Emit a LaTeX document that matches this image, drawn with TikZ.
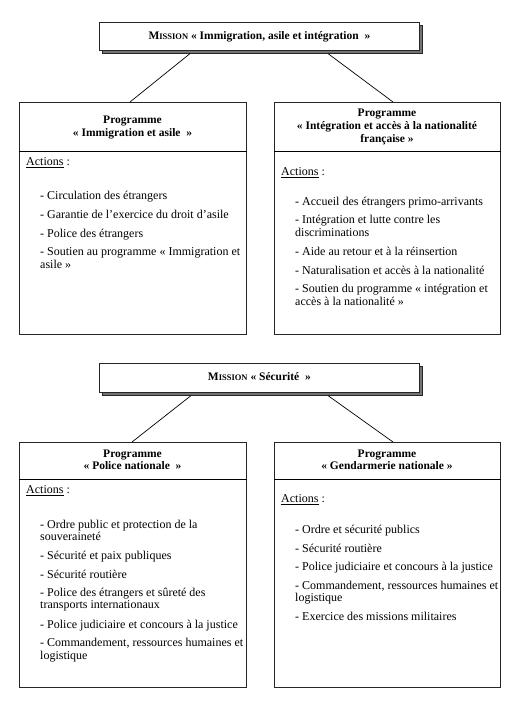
\documentclass[tikz,border=0pt]{standalone}
\usepackage{fontspec}
\setmainfont{Liberation Serif}
\newcommand\missionword{{\fontsize{11.5}{13}\selectfont M}{\fontsize{8.5}{13}\selectfont ISSION}}
\begin{document}
\begin{tikzpicture}[x=1pt,y=-1pt,
  frame/.style={draw=black!85, line width=0.8pt, fill=white, inner sep=0pt, anchor=north west},
  shadowbox/.style={draw=black!85, line width=0.6pt, fill=black!55, inner sep=0pt, anchor=north west},
  conn/.style={draw=black, line width=0.7pt},
  sepline/.style={draw=black, line width=1pt},
  txt/.style={anchor=west, inner sep=0pt, text height=8pt, text depth=2.5pt, font=\fontsize{12}{13}\selectfont},
  hd/.style={inner sep=0pt, text height=8pt, text depth=2.5pt, font=\bfseries\fontsize{11.5}{13}\selectfont},
]
\useasboundingbox (0,0) rectangle (519,703);
\fill[white] (0,0) rectangle (519,703);

% ---------- Mission 1 ----------
\node[shadowbox, minimum width=320pt, minimum height=28pt] (m1s) at (102,25) {};
\node[frame, minimum width=320pt, minimum height=28pt] (m1) at (99,22) {};
\node[hd] (m1t) at (m1.center) {\missionword{} « Immigration, asile et intégration~ »};

\node[frame, minimum width=227pt, minimum height=232pt] (p1) at (19,102) {};
\node[frame, minimum width=226pt, minimum height=232pt] (p2) at (274,102) {};
\draw[sepline] ([yshift=-50pt]p1.north west) -- ([yshift=-50pt]p1.north east);
\draw[sepline] ([yshift=-50pt]p2.north west) -- ([yshift=-50pt]p2.north east);
\draw[conn] ([xshift=88pt]m1s.south west) -- ([xshift=111pt]p1.north west);
\draw[conn] ([xshift=226pt]m1s.south west) -- ([xshift=119pt]p2.north west);

% left header
\node[hd] (h1a) at (132.5,120.5) {Programme};
\node[hd] (h1b) at (132.5,133.5) {« Immigration et asile~ »};
\node[txt] (a1) at (26,163) {\underline{Actions} :};
\node[txt] (i11) at (40,197) {- Circulation des étrangers};
\node[txt] (i12) at (40,216) {- Garantie de l’exercice du droit d’asile};
\node[txt] (i13) at (40,234.5) {- Police des étrangers};
\node[txt] (i14) at (40,253) {- Soutien au programme « Immigration et};
\node[txt] (i14b) at (40,266) {asile »};

% right header
\node[hd] (h2a) at (387,114) {Programme};
\node[hd] (h2b) at (387,127) {« Intégration et accès à la nationalité};
\node[hd] (h2c) at (387,140) {française »};
\node[txt] (a2) at (281,173) {\underline{Actions} :};
\node[txt] (i21) at (295,203) {- Accueil des étrangers primo-arrivants};
\node[txt] (i22) at (295,221) {- Intégration et lutte contre les};
\node[txt] (i22b) at (295,234) {discriminations};
\node[txt] (i23) at (295,253) {- Aide au retour et à la réinsertion};
\node[txt] (i24) at (295,272) {- Naturalisation et accès à la nationalité};
\node[txt] (i25) at (295,290) {- Soutien du programme « intégration et};
\node[txt] (i25b) at (295,303) {accès à la nationalité »};

% ---------- Mission 2 ----------
\node[shadowbox, minimum width=320pt, minimum height=29pt] (m2s) at (102,366) {};
\node[frame, minimum width=320pt, minimum height=29pt] (m2) at (99,363) {};
\node[hd] (m2t) at (m2.center) {\missionword{} « Sécurité~ »};

\node[frame, minimum width=227pt, minimum height=245pt] (p3) at (19,442) {};
\node[frame, minimum width=226pt, minimum height=245pt] (p4) at (274,442) {};
\draw[sepline] ([yshift=-37.5pt]p3.north west) -- ([yshift=-37.5pt]p3.north east);
\draw[sepline] ([yshift=-37.5pt]p4.north west) -- ([yshift=-37.5pt]p4.north east);
\draw[conn] ([xshift=89pt]m2s.south west) -- ([xshift=113pt]p3.north west);
\draw[conn] ([xshift=226pt]m2s.south west) -- ([xshift=119pt]p4.north west);

\node[hd] (h3a) at (132.5,454.5) {Programme};
\node[hd] (h3b) at (132.5,467) {« Police nationale~ »};
\node[txt] (a3) at (26,491) {\underline{Actions} :};
\node[txt] (i31) at (40,526) {- Ordre public et protection de la};
\node[txt] (i31b) at (40,538) {souveraineté};
\node[txt] (i32) at (40,557) {- Sécurité et paix publiques};
\node[txt] (i33) at (40,576) {- Sécurité routière};
\node[txt] (i34) at (40,594) {- Police des étrangers et sûreté des};
\node[txt] (i34b) at (40,606) {transports internationaux};
\node[txt] (i35) at (40,626) {- Police judiciaire et concours à la justice};
\node[txt] (i36) at (40,644) {- Commandement, ressources humaines et};
\node[txt] (i36b) at (40,657) {logistique};

\node[hd] (h4a) at (387,454.5) {Programme};
\node[hd] (h4b) at (387,467) {« Gendarmerie nationale »};
\node[txt] (a4) at (281,500) {\underline{Actions} :};
\node[txt] (i41) at (295,531) {- Ordre et sécurité publics};
\node[txt] (i42) at (295,550) {- Sécurité routière};
\node[txt] (i43) at (295,568) {- Police judiciaire et concours à la justice};
\node[txt] (i44) at (295,587) {- Commandement, ressources humaines et};
\node[txt] (i44b) at (295,599) {logistique};
\node[txt] (i45) at (295,618) {- Exercice des missions militaires};
\end{tikzpicture}
\end{document}
